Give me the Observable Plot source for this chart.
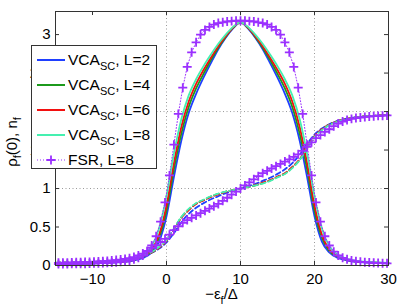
<!DOCTYPE html>
<html><head><meta charset="utf-8">
<script src="https://cdn.jsdelivr.net/npm/d3@7"></script>
<script src="https://cdn.jsdelivr.net/npm/@observablehq/plot@0.6"></script>
<style>body{margin:0;background:#fff} #chart{position:relative;width:399px;height:308px}</style>
</head><body><div id="chart"></div>
<script>
// ---- data ----
const xTicks = [-10, 0, 10, 20, 30];
const yTicks = [0, 0.5, 1, 1.5, 2, 2.5, 3];
const xGrid = [0, 10, 20];
const yGrid = [1, 2];

const seriesNames = ["VCA_SC, L=2", "VCA_SC, L=4", "VCA_SC, L=6", "VCA_SC, L=8", "FSR, L=8"];
const seriesL = [2, 4, 6, 8, 8];

const vcaX = [-15,-12,-10,-8,-6,-5,-4,-3,-2,-1,0,1,2,3,4,5,6,7,8,9,10,11,12,13,14,15,16,17,18,19,20,21,22,23,24,25,26,28,30];

// rho_f(0)
const rhoL2 = [0.02,0.024,0.028,0.036,0.045,0.055,0.075,0.105,0.17,0.31,0.64,1.15,1.62,1.98,2.23,2.44,2.63,2.81,2.96,3.08,3.16,3.08,2.96,2.81,2.63,2.44,2.23,1.98,1.62,1.15,0.64,0.31,0.17,0.105,0.075,0.055,0.045,0.036,0.028];
const rhoL4 = [0.02,0.025,0.029,0.038,0.048,0.06,0.083,0.12,0.19,0.36,0.71,1.25,1.71,2.06,2.30,2.49,2.67,2.83,2.97,3.09,3.16,3.09,2.97,2.83,2.67,2.49,2.30,2.06,1.71,1.25,0.71,0.36,0.19,0.12,0.083,0.06,0.048,0.038,0.029];
const rhoL6 = [0.02,0.025,0.03,0.04,0.05,0.065,0.09,0.13,0.21,0.40,0.78,1.33,1.80,2.13,2.36,2.54,2.70,2.85,2.98,3.09,3.16,3.09,2.98,2.85,2.70,2.54,2.36,2.13,1.80,1.33,0.78,0.40,0.21,0.13,0.09,0.065,0.05,0.04,0.03];
const rhoL8 = [0.022,0.027,0.033,0.043,0.056,0.073,0.10,0.15,0.25,0.48,0.90,1.45,1.90,2.21,2.42,2.59,2.74,2.88,3.00,3.10,3.16,3.10,3.00,2.88,2.74,2.59,2.42,2.21,1.90,1.45,0.90,0.48,0.25,0.15,0.10,0.073,0.056,0.043,0.033];

// n_f
const nL2 = [0.035,0.04,0.045,0.055,0.07,0.083,0.10,0.125,0.165,0.22,0.30,0.42,0.56,0.67,0.75,0.81,0.86,0.90,0.94,0.97,1.0,1.03,1.06,1.10,1.14,1.19,1.25,1.33,1.44,1.58,1.70,1.78,1.835,1.875,1.90,1.917,1.93,1.945,1.955];
const nL4 = [0.035,0.04,0.045,0.055,0.07,0.085,0.10,0.13,0.17,0.235,0.325,0.475,0.625,0.725,0.805,0.85,0.895,0.93,0.96,0.98,1.0,1.02,1.04,1.07,1.105,1.15,1.195,1.275,1.375,1.525,1.675,1.765,1.83,1.87,1.90,1.915,1.93,1.945,1.955];
const nL6 = [0.035,0.04,0.045,0.055,0.07,0.085,0.10,0.13,0.17,0.23,0.32,0.47,0.62,0.72,0.80,0.845,0.89,0.925,0.955,0.98,1.0,1.02,1.045,1.075,1.11,1.155,1.20,1.28,1.38,1.53,1.68,1.77,1.83,1.87,1.90,1.915,1.93,1.945,1.955];
const nL8 = [0.036,0.041,0.046,0.056,0.072,0.087,0.103,0.135,0.175,0.24,0.33,0.48,0.63,0.735,0.81,0.855,0.90,0.935,0.96,0.98,1.0,1.02,1.04,1.065,1.10,1.145,1.19,1.265,1.37,1.52,1.67,1.76,1.825,1.865,1.897,1.913,1.928,1.944,1.954];

// FSR, L=8
const fsrX = [-14.6,-14.0,-13.4,-12.8,-12.2,-11.6,-11.0,-10.4,-9.8,-9.2,-8.6,-8.0,-7.4,-6.8,-6.2,-5.6,-5.0,-4.4,-3.8,-3.2,-2.6,-2.0,-1.4,-0.8,-0.2,0.4,1.0,1.6,2.2,2.8,3.4,4.0,4.6,5.2,5.8,6.4,7.0,7.6,8.2,8.8,9.4,10.0,10.6,11.2,11.8,12.4,13.0,13.6,14.2,14.8,15.4,16.0,16.6,17.2,17.8,18.4,19.0,19.6,20.2,20.8,21.4,22.0,22.6,23.2,23.8,24.4,25.0,25.6,26.2,26.8,27.4,28.0,28.6,29.2,29.8];
const fsrRho = [0.018,0.019,0.020,0.021,0.022,0.023,0.024,0.026,0.028,0.030,0.032,0.035,0.039,0.043,0.048,0.055,0.065,0.08,0.10,0.13,0.18,0.26,0.38,0.57,0.82,1.17,1.57,1.97,2.31,2.58,2.77,2.90,3.00,3.06,3.10,3.13,3.15,3.16,3.17,3.175,3.18,3.18,
  3.18,3.175,3.17,3.16,3.15,3.13,3.10,3.06,3.00,2.90,2.77,2.58,2.31,1.97,1.57,1.17,0.82,0.57,0.38,0.26,0.18,0.13,0.10,0.08,0.065,0.055,0.048,0.043,0.039,0.035,0.032,0.030,0.028];
const fsrN = [0.035,0.036,0.037,0.039,0.041,0.043,0.045,0.047,0.05,0.053,0.056,0.06,0.065,0.07,0.077,0.085,0.095,0.11,0.13,0.155,0.19,0.23,0.265,0.305,0.345,0.40,0.46,0.51,0.555,0.59,0.62,0.65,0.68,0.71,0.74,0.77,0.80,0.84,0.88,0.92,0.96,1.0,
  1.04,1.08,1.12,1.16,1.20,1.23,1.26,1.29,1.32,1.35,1.38,1.41,1.445,1.49,1.54,1.60,1.655,1.695,1.735,1.77,1.81,1.845,1.87,1.89,1.905,1.915,1.923,1.93,1.935,1.94,1.944,1.947,1.95];

// ---- styling ----
const colors = ["#1f3fff", "#1c9a1c", "#f21010", "#45f0b0", "#9b30ff"];
const W = 399, H = 308, mL = 55, mR = 11, mT = 11, mB = 43;
const fw = W - mL - mR, fh = H - mT - mB;
const frameColor = "#333";
const fmt = d3.format("~g");

const rows = (xs, ys) => xs.map((x, i) => ({x, y: ys[i]}));
const rhoSets = [rhoL2, rhoL4, rhoL6, rhoL8];
const nSets = [nL2, nL4, nL6, nL8];

const marks = [
  Plot.ruleX(xGrid, {stroke: "#9a9a9a", strokeWidth: 1, strokeDasharray: "1,2.5"}),
  Plot.ruleY(yGrid, {stroke: "#9a9a9a", strokeWidth: 1, strokeDasharray: "1,2.5"}),
];
rhoSets.forEach((s, i) => marks.push(Plot.line(rows(vcaX, s), {x: "x", y: "y", stroke: colors[i], strokeWidth: 1.8, curve: "monotone-x"})));
nSets.forEach((s, i) => marks.push(Plot.line(rows(vcaX, s), {x: "x", y: "y", stroke: colors[i], strokeWidth: 1.8, strokeDasharray: "5,3", curve: "monotone-x"})));
[fsrRho, fsrN].forEach(s => {
  marks.push(Plot.line(rows(fsrX, s), {x: "x", y: "y", stroke: colors[4], strokeWidth: 1, strokeDasharray: "1,2"}));
  marks.push(Plot.dot(rows(fsrX, s), {x: "x", y: "y", symbol: "plus", r: 3, stroke: colors[4], strokeWidth: 1.8}));
});
marks.push(
  Plot.frame({stroke: frameColor, strokeWidth: 1}),
  Plot.tickX(xTicks, {stroke: frameColor, insetTop: fh - 4}),
  Plot.tickX(xTicks, {stroke: frameColor, insetBottom: fh - 4}),
  Plot.tickY(yTicks, {stroke: frameColor, insetRight: fw - 4}),
  Plot.tickY(yTicks, {stroke: frameColor, insetLeft: fw - 4}),
  Plot.axisX({ticks: xTicks, tickSize: 0, tickPadding: 8, label: null, fontSize: 15, tickFormat: fmt}),
  Plot.axisY({ticks: yTicks, tickSize: 0, tickPadding: 5, label: null, fontSize: 15, tickFormat: fmt})
);

const svgEl = Plot.plot({
  width: W, height: H, marginLeft: mL, marginRight: mR, marginTop: mT, marginBottom: mB,
  style: {fontFamily: "'Liberation Sans', Arial, Helvetica, sans-serif", fontSize: "15px", background: "white", color: "black", overflow: "visible"},
  x: {domain: [-15, 30]},
  y: {domain: [0, 3.3]},
  marks
});
document.getElementById("chart").appendChild(svgEl);

// ---- labels & legend ----
const svg = d3.select(svgEl);
const font = "'Liberation Sans', Arial, Helvetica, sans-serif";

// y label
const yl = svg.append("text").attr("transform", `translate(17,${mT + fh / 2 + 4}) rotate(-90)`)
  .attr("text-anchor", "middle").attr("font-family", font).attr("font-size", 15).attr("fill", "black");
yl.append("tspan").text("ρ");
yl.append("tspan").attr("dy", 4).attr("font-size", 11).text("f");
yl.append("tspan").attr("dy", -4).text("(0), n");
yl.append("tspan").attr("dy", 4).attr("font-size", 11).text("f");

// x label
const xl = svg.append("text").attr("x", mL + fw / 2).attr("y", 299)
  .attr("text-anchor", "middle").attr("font-family", font).attr("font-size", 15).attr("fill", "black");
xl.append("tspan").text("−ε");
xl.append("tspan").attr("dy", 5).attr("font-size", 11).text("f");
xl.append("tspan").attr("dy", -5).text("/Δ");

// legend
const lg = svg.append("g").attr("text-anchor", "start");
lg.append("rect").attr("x", 31.5).attr("y", 45.5).attr("width", 125).attr("height", 123)
  .attr("fill", "white").attr("stroke", frameColor).attr("stroke-width", 1);
seriesNames.forEach((name, i) => {
  const cy = 60 + 25 * i;
  if (i < 4) {
    lg.append("line").attr("x1", 37).attr("x2", 65).attr("y1", cy).attr("y2", cy)
      .attr("stroke", colors[i]).attr("stroke-width", 2);
    const t = lg.append("text").attr("x", 68).attr("y", cy + 4.5).attr("text-anchor", "start")
      .attr("font-family", font).attr("font-size", 15.5).attr("fill", "black");
    t.append("tspan").text("VCA");
    t.append("tspan").attr("dy", 5).attr("font-size", 11).text("SC");
    t.append("tspan").attr("dy", -5).text(`, L=${seriesL[i]}`);
  } else {
    lg.append("line").attr("x1", 37).attr("x2", 65).attr("y1", cy).attr("y2", cy)
      .attr("stroke", colors[4]).attr("stroke-width", 1.2).attr("stroke-dasharray", "1,2");
    lg.append("path").attr("d", d3.symbol(d3.symbolPlus, 28)()).attr("transform", `translate(51,${cy})`)
      .attr("fill", "none").attr("stroke", colors[4]).attr("stroke-width", 1.8);
    lg.append("text").attr("x", 68).attr("y", cy + 5).attr("text-anchor", "start")
      .attr("font-family", font).attr("font-size", 15.5).attr("fill", "black")
      .text(`FSR, L=${seriesL[i]}`);
  }
});
</script></body></html>
